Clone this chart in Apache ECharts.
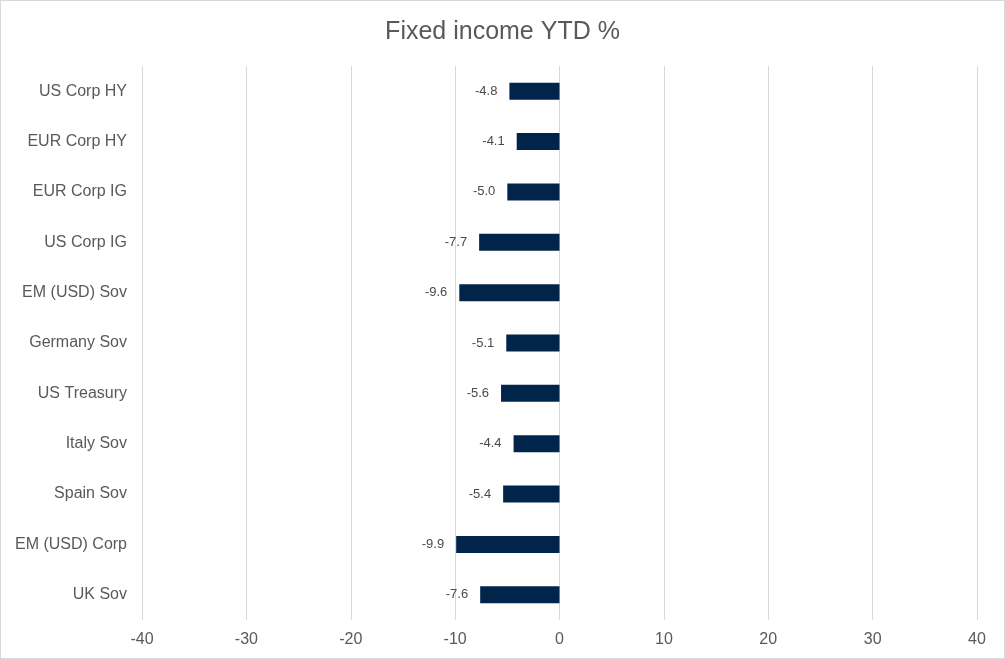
<!DOCTYPE html>
<html>
<head>
<meta charset="utf-8">
<script src="https://cdn.jsdelivr.net/npm/echarts@6/dist/echarts.min.js"></script>
<style>
  html, body { margin: 0; padding: 0; background: #fff; }
  #chart { width: 1005px; height: 659px; box-sizing: border-box; border: 1px solid #d9d9d9; }
</style>
</head>
<body>
<div id="chart"></div>
<script>
// Year-to-date returns by fixed income segment (%)
const categories = [
  'US Corp HY', 'EUR Corp HY', 'EUR Corp IG', 'US Corp IG', 'EM (USD) Sov',
  'Germany Sov', 'US Treasury', 'Italy Sov', 'Spain Sov', 'EM (USD) Corp', 'UK Sov'
];
const ytdReturns = [-4.8, -4.1, -5.0, -7.7, -9.6, -5.1, -5.6, -4.4, -5.4, -9.9, -7.6];
const axisMin = -40;
const axisMax = 40;
const axisStep = 10;

const chart = echarts.init(document.getElementById('chart'), null, { renderer: 'canvas' });
const textColor = '#595959';
const fontFamily = '"Liberation Sans", Arial, sans-serif';

chart.setOption({
  animation: false,
  backgroundColor: '#ffffff',
  title: {
    text: 'Fixed income YTD %',
    left: 'center',
    top: 14,
    textStyle: { color: textColor, fontSize: 25, fontWeight: 'normal', fontFamily }
  },
  grid: { left: 141, right: 27, top: 65, bottom: 38, containLabel: false },
  xAxis: {
    type: 'value',
    min: axisMin,
    max: axisMax,
    interval: axisStep,
    axisLine: { show: false },
    axisTick: { show: false },
    axisLabel: { color: textColor, fontSize: 16, fontFamily, margin: 12 },
    splitLine: { show: true, lineStyle: { color: '#d9d9d9', width: 1 } }
  },
  yAxis: {
    type: 'category',
    data: categories,
    inverse: true,
    axisLine: { show: false },
    axisTick: { show: false },
    splitLine: { show: false },
    axisLabel: { color: textColor, fontSize: 16, fontFamily, margin: 15 }
  },
  series: [{
    type: 'bar',
    data: ytdReturns,
    barWidth: 17,
    itemStyle: { color: '#00244a' },
    label: {
      show: true,
      position: 'left',
      distance: 12,
      color: '#4a4a4a',
      fontSize: 13,
      fontFamily,
      formatter: p => p.value.toFixed(1)
    }
  }]
});
</script>
</body>
</html>
